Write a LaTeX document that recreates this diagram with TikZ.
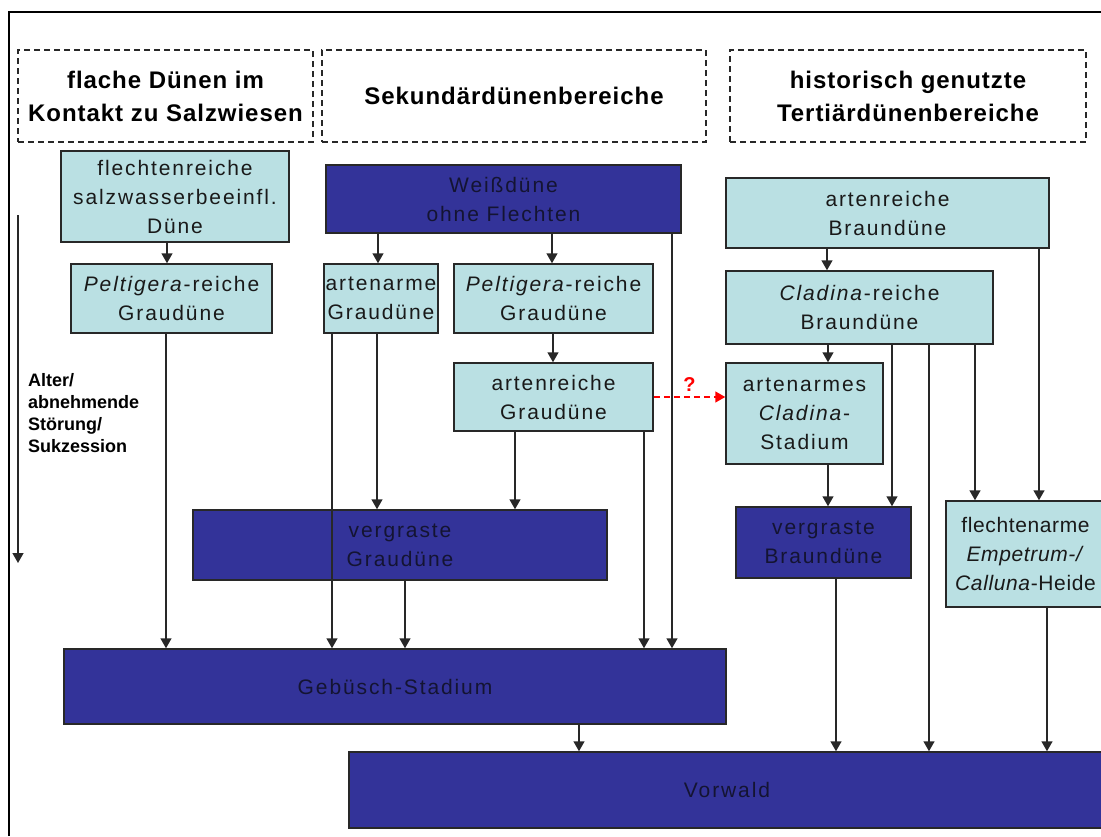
\documentclass[tikz,border=0pt]{standalone}
\usepackage{fontspec}
\setmainfont{Liberation Sans}
\newfontfamily\boxfont[LetterSpace=9]{Liberation Sans}
\newfontfamily\tightfont[LetterSpace=3]{Liberation Sans}
\newfontfamily\headfont[LetterSpace=4]{Liberation Sans}
\usetikzlibrary{arrows.meta}
\definecolor{lightC}{RGB}{186,224,227}
\definecolor{darkC}{RGB}{51,51,153}
\definecolor{lineC}{RGB}{40,40,40}
\definecolor{textC}{RGB}{20,20,50}

\tikzstyle{hS}=[draw=lineC, line width=1.3pt, dash pattern=on 6pt off 4pt, inner sep=0pt, font=\headfont\bfseries\fontsize{24}{33}\selectfont, align=center]
\tikzstyle{lS}=[draw=lineC, line width=1.5pt, fill=lightC, inner sep=0pt, text=black!90, font=\boxfont\fontsize{21}{29}\selectfont, align=center]
\tikzstyle{dS}=[lS, fill=darkC, text=textC]
\tikzstyle{aS}=[line width=1.5pt, draw=lineC, -{Triangle[width=11pt,length=10pt]}]
\tikzstyle{qS}=[line width=1.5pt, draw=red, dash pattern=on 6pt off 4pt, -{Triangle[width=11pt,length=10pt]}]

\begin{document}
\begin{tikzpicture}[x=1pt,y=-1pt]
    \clip (0,0) rectangle (1101,836);
    \useasboundingbox (0,0) rectangle (1101,836);
    \draw[line width=2pt] (9,836) -- (9,12) -- (1101,12);
    % headers
    \draw (165.5,96) node[hS, minimum width=295, minimum height=92] (hd1) {flache Dünen im\\Kontakt zu Salzwiesen};
    \draw (514,96) node[hS, minimum width=384, minimum height=92] (hd2) {Sekundärdünenbereiche};
    \draw (908,96) node[hS, minimum width=356, minimum height=92] (hd3) {historisch genutzte\\Tertiärdünenbereiche};
    % left column
    \draw (175,196.5) node[lS, minimum width=228, minimum height=91] (fsd) {flechtenreiche\\salzwasserbeeinfl.\\Düne};
    \draw (171.5,298.5) node[lS, minimum width=201, minimum height=69] (pg1) {\textit{Peltigera}-reiche\\Graudüne};
    % middle column
    \draw (503.5,199) node[dS, minimum width=355, minimum height=68] (wd) {Weißdüne\\ohne Flechten};
    \draw (381,298.5) node[lS, minimum width=114, minimum height=69] (ag) {artenarme\\Graudüne};
    \draw (553.5,298.5) node[lS, minimum width=199, minimum height=69] (pg2) {\textit{Peltigera}-reiche\\Graudüne};
    \draw (553.5,397) node[lS, minimum width=199, minimum height=68] (rg) {artenreiche\\Graudüne};
    \draw (400,545) node[dS, minimum width=414, minimum height=70] (vg) {vergraste\\Graudüne};
    % right column
    \draw (887.5,213) node[lS, minimum width=323, minimum height=70] (rb) {artenreiche\\Braundüne};
    \draw (859.5,307.5) node[lS, minimum width=267, minimum height=73] (cb) {\textit{Cladina}-reiche\\Braundüne};
    \draw (804.5,413.5) node[lS, minimum width=157, minimum height=101] (cs) {artenarmes\\\textit{Cladina}-\\Stadium};
    \draw (823.5,542.5) node[dS, minimum width=175, minimum height=71] (vb) {vergraste\\Braundüne};
    \draw (1025.5,554) node[lS, minimum width=159, minimum height=106, font=\tightfont\fontsize{21}{29}\selectfont] (ch) {flechtenarme\\\textit{Empetrum-/}\\\textit{Calluna}-Heide};
    % bottom
    \draw (395,686.5) node[dS, minimum width=662, minimum height=75] (gb) {Gebüsch-Stadium};
    \draw (727,790) node[dS, minimum width=756, minimum height=76] (vw) {Vorwald};
    % axis
    \coordinate (axTop) at (18,215);
    \coordinate (axBot) at (18,563);
    \draw[aS] (axTop) -- (axBot);
    \draw (28,373) node[anchor=north west, inner sep=0pt, align=left, font=\bfseries\fontsize{18}{22}\selectfont] (ax) {Alter/\\abnehmende\\Störung/\\Sukzession};
    \path
        (fsd.south -| 167,0) edge[aS] (pg1.north -| 167,0)
        (pg1.south -| 166,0) edge[aS] (gb.north -| 166,0)
        (wd.south -| 378,0) edge[aS] (ag.north -| 378,0)
        (wd.south -| 552,0) edge[aS] (pg2.north -| 552,0)
        (wd.south -| 672,0) edge[aS] (gb.north -| 672,0)
        (ag.south -| 377,0) edge[aS] (vg.north -| 377,0)
        (ag.south -| 332,0) edge[aS] (gb.north -| 332,0)
        (pg2.south -| 553,0) edge[aS] (rg.north -| 553,0)
        (rg.south -| 515,0) edge[aS] (vg.north -| 515,0)
        (rg.south -| 644,0) edge[aS] (gb.north -| 644,0)
        (vg.south -| 405,0) edge[aS] (gb.north -| 405,0)
        (gb.south -| 579,0) edge[aS] (vw.north -| 579,0)
        (rb.south -| 827,0) edge[aS] (cb.north -| 827,0)
        (rb.south -| 1039,0) edge[aS] (ch.north -| 1039,0)
        (cb.south -| 828,0) edge[aS] (cs.north -| 828,0)
        (cb.south -| 892,0) edge[aS] (vb.north -| 892,0)
        (cb.south -| 929,0) edge[aS] (vw.north -| 929,0)
        (cb.south -| 975,0) edge[aS] (ch.north -| 975,0)
        (cs.south -| 828,0) edge[aS] (vb.north -| 828,0)
        (vb.south -| 836,0) edge[aS] (vw.north -| 836,0)
        (ch.south -| 1047,0) edge[aS] (vw.north -| 1047,0)
    ;
    \draw[qS] (rg.east) -- (rg.east -| cs.west) node[midway, above=1pt, text=red, font=\bfseries\fontsize{20}{24}\selectfont] (qm) {?};
\end{tikzpicture}
\end{document}
